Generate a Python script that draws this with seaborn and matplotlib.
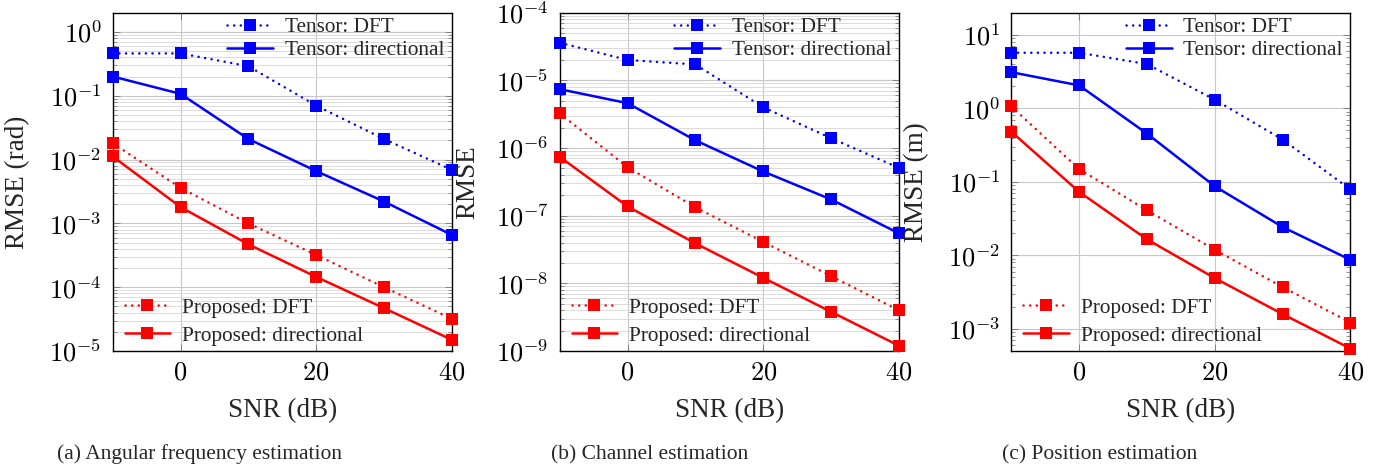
import numpy as np
import pandas as pd
import matplotlib
matplotlib.use("Agg")
import matplotlib.pyplot as plt
from matplotlib.ticker import FuncFormatter, LogLocator, FixedLocator, NullFormatter
import seaborn as sns

# data
snr = [-10, 0, 10, 20, 30, 40]

# (a) angular frequency, RMSE (rad)
ang_tensor_dft = [0.46, 0.46, 0.29, 0.070, 0.021, 0.0069]
ang_tensor_dir = [0.20, 0.107, 0.021, 0.0066, 0.0022, 0.00066]
ang_prop_dft = [0.018, 0.0036, 0.0010, 0.00032, 0.00010, 3.2e-5]
ang_prop_dir = [0.0112, 0.0018, 0.00047, 0.000145, 4.7e-5, 1.5e-5]

# (b) channel, RMSE
ch_tensor_dft = [3.6e-5, 2.0e-5, 1.72e-5, 4.0e-6, 1.4e-6, 5.1e-7]
ch_tensor_dir = [7.4e-6, 4.6e-6, 1.3e-6, 4.5e-7, 1.74e-7, 5.5e-8]
ch_prop_dft = [3.25e-6, 5.2e-7, 1.33e-7, 4.1e-8, 1.28e-8, 4.0e-9]
ch_prop_dir = [7.4e-7, 1.37e-7, 3.9e-8, 1.21e-8, 3.8e-9, 1.2e-9]

# (c) position, RMSE (m)
pos_tensor_dft = [5.7, 5.7, 4.0, 1.31, 0.376, 0.079]
pos_tensor_dir = [3.1, 2.05, 0.453, 0.087, 0.0243, 0.0087]
pos_prop_dft = [1.06, 0.149, 0.041, 0.0119, 0.0037, 0.00122]
pos_prop_dir = [0.48, 0.073, 0.0165, 0.0049, 0.00159, 0.00054]

ylabels = ["RMSE (rad)", "RMSE", "RMSE (m)"]
captions = ["(a) Angular frequency estimation", "(b) Channel estimation", "(c) Position estimation"]
ylims = [(1e-5, 2.0), (1e-9, 1e-4), (5e-4, 20)]

sns.set_theme(style="ticks")
plt.rcParams["font.family"] = ["Liberation Serif", "DejaVu Serif"]
plt.rcParams["mathtext.fontset"] = "cm"

panels = [
    (ang_tensor_dft, ang_tensor_dir, ang_prop_dft, ang_prop_dir),
    (ch_tensor_dft, ch_tensor_dir, ch_prop_dft, ch_prop_dir),
    (pos_tensor_dft, pos_tensor_dir, pos_prop_dft, pos_prop_dir),
]
minor_grid = [True, True, False]

fig = plt.figure(figsize=(13.9, 4.7), dpi=100)
lefts = [0.0811, 0.4027, 0.7276]
ylab_x = [-0.28, -0.272, -0.279]

dotted = (0, (0.05, 2.6))
for i, (t_dft, t_dir, p_dft, p_dir) in enumerate(panels):
    ax = fig.add_axes([lefts[i], 0.2532, 0.2439, 0.7198])
    ax.set_yscale("log")
    series = [
        (t_dft, "blue", dotted, "Tensor: DFT"),
        (t_dir, "blue", "-", "Tensor: directional"),
        (p_dft, "red", dotted, "Proposed: DFT"),
        (p_dir, "red", "-", "Proposed: directional"),
    ]
    for vals, col, ls, lab in series:
        df = pd.DataFrame({"snr": snr, "rmse": vals})
        sns.lineplot(data=df, x="snr", y="rmse", ax=ax, color=col, linestyle=ls,
                     linewidth=1.8, marker="s", markersize=8.5, markeredgewidth=0,
                     dash_capstyle="round", label=lab, zorder=3, clip_on=False)
    ax.set_xlim(-10, 40)
    ax.set_ylim(*ylims[i])
    ax.xaxis.set_major_locator(FixedLocator([0, 20, 40]))
    ax.xaxis.set_major_formatter(FuncFormatter(lambda v, p: r"$%d$" % v))
    ax.yaxis.set_major_locator(LogLocator(base=10, numticks=20))
    ax.yaxis.set_minor_locator(LogLocator(base=10, subs=np.arange(2, 10), numticks=20))
    ax.yaxis.set_major_formatter(FuncFormatter(lambda v, p: r"$10^{%d}$" % round(np.log10(v))))
    ax.yaxis.set_minor_formatter(NullFormatter())
    ax.tick_params(axis="both", which="both", direction="in", top=True, right=True,
                   colors="#808080", labelcolor="black", labelsize=19, pad=8)
    ax.tick_params(axis="both", which="major", length=5, width=0.7)
    ax.tick_params(axis="y", which="minor", length=3, width=0.6)
    ax.grid(True, which="major", color="#c8c8c8", linewidth=0.8)
    if minor_grid[i]:
        ax.grid(True, which="minor", axis="y", color="#d6d6d6", linewidth=0.6)
    for s in ax.spines.values():
        s.set_color("black")
        s.set_linewidth(1.0)
    ax.set_xlabel("SNR (dB)", fontsize=19.5, va="center")
    ax.set_ylabel(ylabels[i], fontsize=19.5, va="center")
    ax.xaxis.set_label_coords(0.5, -0.175)
    ax.yaxis.set_label_coords(ylab_x[i], 0.5)

    handles, labels = ax.get_legend_handles_labels()
    leg1 = ax.legend(handles[:2], labels[:2], loc="upper right", frameon=False,
                     fontsize=15.3, handlelength=2.15, labelspacing=0.15,
                     borderaxespad=0.0, handletextpad=0.55,
                     bbox_to_anchor=(1.003, 1.011))
    ax.add_artist(leg1)
    ax.legend(handles[2:], labels[2:], loc="lower left", frameon=False,
              fontsize=15.3, handlelength=2.15, labelspacing=0.38,
              borderaxespad=0.0, handletextpad=0.55,
              bbox_to_anchor=(0.01, -0.01))

for i, cap in enumerate(captions):
    fig.text([0.041, 0.3964, 0.7206][i], 0.033, cap, fontsize=15.5, va="center")

fig.savefig("out.png", dpi=100)
